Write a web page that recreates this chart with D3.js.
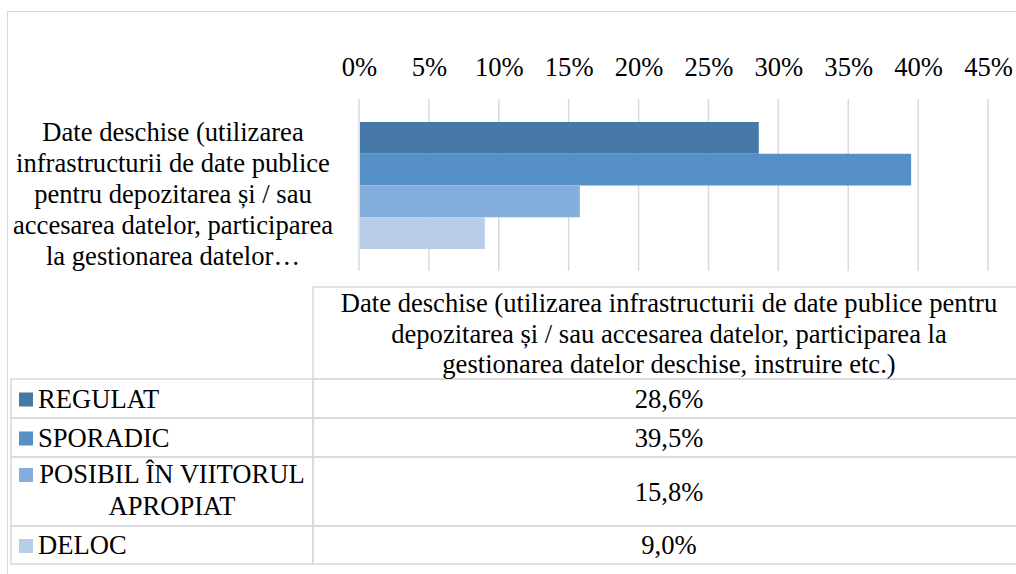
<!DOCTYPE html>
<html>
<head>
<meta charset="utf-8">
<script src="https://cdn.jsdelivr.net/npm/d3@7"></script>
<style>
  body { margin: 0; background: #fff; }
</style>
</head>
<body>
<svg id="chart" width="1016" height="574"></svg>
<script>
//Chart data
let series = ["REGULAT", "SPORADIC", "POSIBIL ÎN VIITORUL APROPIAT", "DELOC"];
let values = [0.286, 0.395, 0.158, 0.090];
let valueLabels = ["28,6%", "39,5%", "15,8%", "9,0%"];
let colors = ["#4779a8", "#5590c7", "#84afdc", "#b7cde8"];
let ticks = [0, 0.05, 0.10, 0.15, 0.20, 0.25, 0.30, 0.35, 0.40, 0.45];
//Category label as wrapped in the picture
let categoryLines = ["Date deschise (utilizarea", "infrastructurii de date publice", "pentru depozitarea și / sau", "accesarea datelor, participarea", "la gestionarea datelor…"];
let headerLines = ["Date deschise (utilizarea infrastructurii de date publice pentru", "depozitarea și / sau accesarea datelor, participarea la", "gestionarea datelor deschise, instruire etc.)"];
let legendLines = [["REGULAT"], ["SPORADIC"], ["POSIBIL ÎN VIITORUL", "APROPIAT"], ["DELOC"]];

let svg = d3.select("#chart");
let fontSize = "26.6px";
let lineColor = "#d9d9d9";

//Set font on a text selection
function setFont(sel) {
    return sel.style("font-family", "'Liberation Serif', 'Times New Roman', serif")
        .style("font-size", fontSize)
        .style("fill", "#000");
}

//Outer frame
svg.append("rect")
    .attr("x", 7.5).attr("y", 11.5)
    .attr("width", 1030).attr("height", 600)
    .attr("fill", "none").attr("stroke", lineColor).attr("stroke-width", 1);

//Scales
let x = d3.scaleLinear().domain([0, 0.45]).range([359, 988]);
let y = d3.scaleBand().domain(series).range([122, 249]).padding(0);

//Gridlines
svg.append("g")
    .selectAll("line")
    .data(ticks)
    .enter().append("line")
    .attr("x1", d => x(d)).attr("x2", d => x(d))
    .attr("y1", 99).attr("y2", 271)
    .attr("stroke", lineColor).attr("stroke-width", 1.5);

//Axis on top
let axis = d3.axisTop(x).tickValues(ticks).tickFormat(d3.format(".0%")).tickSize(0).tickPadding(0);
let axisG = svg.append("g").attr("transform", "translate(0,76)").call(axis);
axisG.select(".domain").remove();
axisG.attr("font-family", null).attr("font-size", null);
setFont(axisG.selectAll("text")).attr("dy", 0);

//Bars
svg.append("g")
    .selectAll("rect")
    .data(series)
    .enter().append("rect")
    .attr("x", x(0) + 1)
    .attr("y", d => y(d))
    .attr("width", (d, i) => x(values[i]) - x(0) - 1)
    .attr("height", y.bandwidth())
    .attr("fill", (d, i) => colors[i]);

//Category label
setFont(svg.append("text"))
    .attr("text-anchor", "middle")
    .selectAll("tspan")
    .data(categoryLines)
    .enter().append("tspan")
    .attr("x", 173)
    .attr("y", (d, i) => 141 + i * 31)
    .text(d => d);

//Data table
let tableRight = 1030;
let rowTops = [379, 418, 457, 526];
let rowBottoms = [418, 457, 526, 564];
let tbl = svg.append("g").attr("stroke", lineColor).attr("stroke-width", 1.5).attr("fill", "none");
//header cell
tbl.append("rect").attr("x", 313).attr("y", 287).attr("width", tableRight - 313).attr("height", 379 - 287);
//rows
rowTops.forEach((t, i) => {
    tbl.append("rect").attr("x", 11).attr("y", t).attr("width", 313 - 11).attr("height", rowBottoms[i] - t);
    tbl.append("rect").attr("x", 313).attr("y", t).attr("width", tableRight - 313).attr("height", rowBottoms[i] - t);
});

//Header text
setFont(svg.append("text"))
    .attr("text-anchor", "middle")
    .selectAll("tspan")
    .data(headerLines)
    .enter().append("tspan")
    .attr("x", 669)
    .attr("y", (d, i) => 312 + i * 30.5)
    .text(d => d);

//Legend keys, labels and value cells
let legend = svg.append("g");
series.forEach((s, i) => {
    let lines = legendLines[i];
    let first = lines.length > 1 ? rowTops[i] + 26 : (rowTops[i] + rowBottoms[i]) / 2 + 9;
    legend.append("rect")
        .attr("x", 19).attr("y", first - 15)
        .attr("width", 14).attr("height", 14)
        .attr("fill", colors[i]);
    setFont(legend.append("text"))
        .attr("text-anchor", lines.length > 1 ? "middle" : "start")
        .selectAll("tspan")
        .data(lines)
        .enter().append("tspan")
        .attr("x", lines.length > 1 ? 172 : 38)
        .attr("y", (d, j) => first + j * 32)
        .text(d => d);
    setFont(svg.append("text"))
        .attr("text-anchor", "middle")
        .attr("x", 669)
        .attr("y", (rowTops[i] + rowBottoms[i]) / 2 + 9)
        .text(valueLabels[i]);
});
</script>
</body>
</html>
